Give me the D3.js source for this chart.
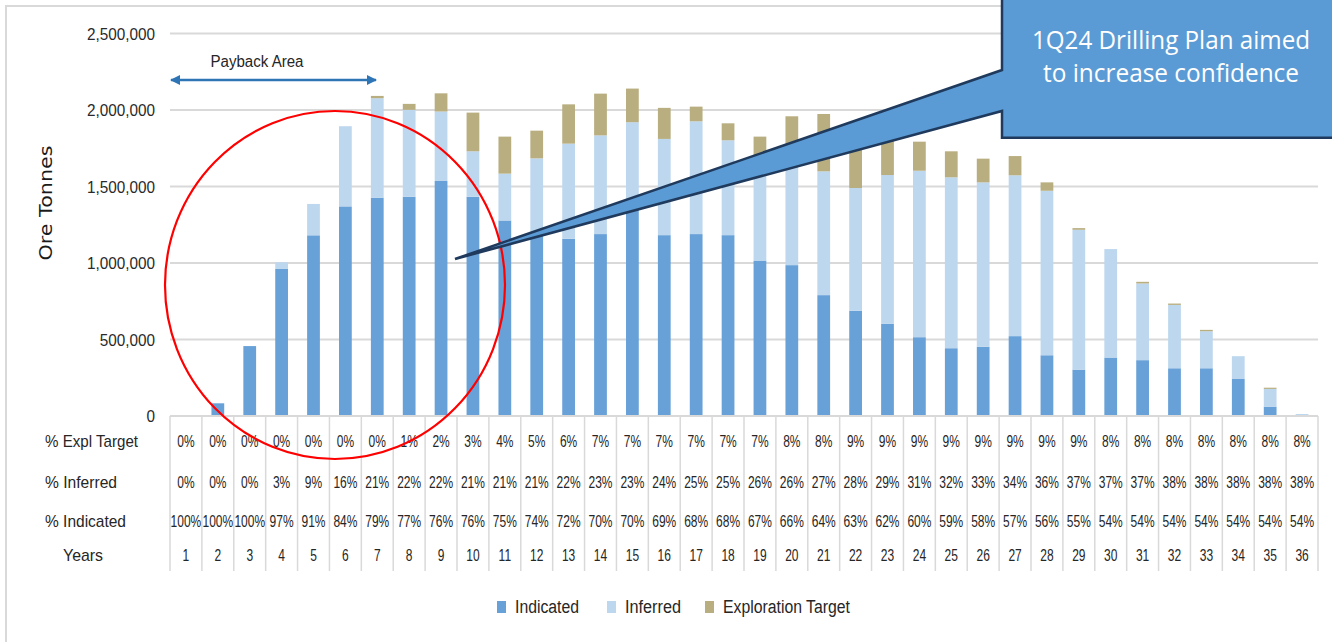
<!DOCTYPE html>
<html><head><meta charset="utf-8">
<script src="https://cdn.jsdelivr.net/npm/d3@7"></script>
<style>
html,body{margin:0;padding:0;background:#fff;}
svg{display:block;}
</style></head>
<body>
<svg id="chart" width="1332" height="642"></svg>
<script>
const years = d3.range(1, 37).map(String);
const indicated = [2000, 83000, 457000, 961000, 1181000, 1370000, 1427000, 1433000, 1536000, 1433000, 1278000, 1178000, 1158000, 1189000, 1370000, 1182000, 1189000, 1182000, 1016000, 986000, 790000, 687000, 602000, 515000, 443000, 452000, 522000, 397000, 303000, 382000, 365000, 312000, 312000, 242000, 61000, 0];
const inferred = [0, 0, 0, 44000, 205000, 524000, 650000, 568000, 454000, 297000, 306000, 506000, 622000, 645000, 550000, 629000, 737000, 620000, 614000, 704000, 809000, 803000, 973000, 1088000, 1117000, 1075000, 1051000, 1075000, 914000, 709000, 501000, 414000, 242000, 149000, 116000, 13000];
const explTarget = [0, 0, 0, 0, 0, 0, 15000, 39000, 119000, 253000, 242000, 181000, 257000, 273000, 220000, 203000, 96000, 111000, 196000, 269000, 375000, 290000, 225000, 190000, 170000, 155000, 126000, 55000, 11000, 0, 11000, 9000, 9000, 0, 8000, 0];
const pctExpl = ["0%","0%","0%","0%","0%","0%","0%","1%","2%","3%","4%","5%","6%","7%","7%","7%","7%","7%","7%","8%","8%","9%","9%","9%","9%","9%","9%","9%","9%","8%","8%","8%","8%","8%","8%","8%"];
const pctInferred = ["0%","0%","0%","3%","9%","16%","21%","22%","22%","21%","21%","21%","22%","23%","23%","24%","25%","25%","26%","26%","27%","28%","29%","31%","32%","33%","34%","36%","37%","37%","37%","38%","38%","38%","38%","38%"];
const pctIndicated = ["100%","100%","100%","97%","91%","84%","79%","77%","76%","76%","75%","74%","72%","70%","70%","69%","68%","68%","67%","66%","64%","63%","62%","60%","59%","58%","57%","56%","55%","54%","54%","54%","54%","54%","54%","54%"];
const yTicks = [0, 500000, 1000000, 1500000, 2000000, 2500000];
const seriesNames = ["Indicated", "Inferred", "Exploration Target"];
const colors = ["#68a1d8", "#bdd7ee", "#b9ae80"];

const svg = d3.select("#chart");
const font = "'Liberation Sans', Arial, sans-serif";
const L = 170, R = 1318, T = 33.5, B = 416;
const txtColor = "#262626";

// frame
svg.append("rect").attr("x", 6).attr("y", 6).attr("width", 1400).attr("height", 700)
  .attr("fill", "none").attr("stroke", "#d9d9d9").attr("stroke-width", 2);

const x = d3.scaleBand().domain(years).range([L, R]).paddingInner(0.6).paddingOuter(0.3);
const y = d3.scaleLinear().domain([0, 2500000]).range([B, T]);
const step = x.step();

// gridlines
svg.append("g").selectAll("line").data(yTicks).join("line")
  .attr("x1", L).attr("x2", R).attr("y1", d => y(d)).attr("y2", d => y(d))
  .attr("stroke", "#d9d9d9").attr("stroke-width", 2);

// y axis labels
const yAxis = d3.axisLeft(y).tickValues(yTicks).tickSize(0).tickPadding(0).tickFormat(d3.format(","));
const yg = svg.append("g").attr("transform", `translate(${L - 15},0)`).call(yAxis);
yg.select(".domain").remove();
yg.selectAll("text").attr("font-family", font).attr("font-size", 17).attr("fill", "#2a2a2a").attr("dy", "0.34em")
  .attr("x", 0).attr("transform", null)
  .each(function () {
    const w = this.getComputedTextLength();
    d3.select(this).attr("textLength", w * 0.9).attr("lengthAdjust", "spacingAndGlyphs");
  });

svg.append("text").attr("transform", "translate(52,203) rotate(-90)")
  .attr("text-anchor", "middle").attr("font-family", "'DejaVu Sans', Verdana, sans-serif")
  .attr("font-size", 18).attr("fill", "#1a1a1a")
  .attr("textLength", 115).attr("lengthAdjust", "spacingAndGlyphs").text("Ore Tonnes");

// stacked bars
const rows = years.map((yr, i) => ({year: yr, Indicated: indicated[i], Inferred: inferred[i], "Exploration Target": explTarget[i]}));
const stack = d3.stack().keys(seriesNames)(rows);
svg.append("g").selectAll("g").data(stack).join("g").attr("fill", (d, i) => colors[i])
  .selectAll("rect").data(d => d).join("rect")
  .attr("x", d => x(d.data.year)).attr("width", x.bandwidth())
  .attr("y", d => y(d[1])).attr("height", d => Math.max(0, y(d[0]) - y(d[1])));

// table
const tg = svg.append("g");
tg.selectAll("line.v").data(d3.range(0, 37)).join("line")
  .attr("x1", k => L + k * step).attr("x2", k => L + k * step)
  .attr("y1", B).attr("y2", 571).attr("stroke", "#d9d9d9").attr("stroke-width", 1.5);
tg.append("line").attr("x1", L).attr("x2", R).attr("y1", B).attr("y2", B).attr("stroke", "#d9d9d9").attr("stroke-width", 2);

const tableRows = [
  {label: "% Expl Target", vals: pctExpl, y: 441, lx: 45, w: 93},
  {label: "% Inferred", vals: pctInferred, y: 482, lx: 45, w: 72},
  {label: "% Indicated", vals: pctIndicated, y: 521, lx: 45, w: 81},
  {label: "Years", vals: years, y: 555, lx: 63, w: 40}
];
tableRows.forEach(r => {
  tg.append("text").attr("x", r.lx).attr("y", r.y).attr("dy", "0.35em")
    .attr("font-family", font).attr("font-size", 17).attr("fill", txtColor)
    .attr("textLength", r.w).attr("lengthAdjust", "spacingAndGlyphs").text(r.label);
  tg.append("g").selectAll("text").data(r.vals).join("text")
    .attr("transform", (d, i) => `translate(${x(years[i]) + x.bandwidth() / 2},${r.y}) scale(0.75,1)`)
    .attr("dy", "0.35em")
    .attr("text-anchor", "middle").attr("font-family", font).attr("font-size", 16).attr("fill", txtColor)
    .text(d => d);
});

// legend
const legX = [497, 607, 705];
const legW = [64, 56, 127];
const lg = svg.append("g");
seriesNames.forEach((n, i) => {
  lg.append("rect").attr("x", legX[i]).attr("y", 601).attr("width", 9).attr("height", 12).attr("fill", colors[i]);
  lg.append("text").attr("x", legX[i] + 18).attr("y", 607).attr("dy", "0.35em")
    .attr("font-family", font).attr("font-size", 18).attr("fill", txtColor)
    .attr("textLength", legW[i]).attr("lengthAdjust", "spacingAndGlyphs").text(n);
});

// payback arrow
const arrowColor = "#2e75b6";
svg.append("defs").html(`<marker id="ah" viewBox="0 0 10 10" refX="9" refY="5" markerWidth="4" markerHeight="4" orient="auto-start-reverse"><path d="M0,0 L10,5 L0,10 Z" fill="${arrowColor}"/></marker>`);
svg.append("line").attr("x1", 171).attr("x2", 376).attr("y1", 80).attr("y2", 80)
  .attr("stroke", arrowColor).attr("stroke-width", 2.5)
  .attr("marker-start", "url(#ah)").attr("marker-end", "url(#ah)");
svg.append("text").attr("x", 257).attr("y", 61).attr("dy", "0.35em").attr("text-anchor", "middle")
  .attr("font-family", font).attr("font-size", 16).attr("fill", txtColor)
  .attr("textLength", 93).attr("lengthAdjust", "spacingAndGlyphs").text("Payback Area");

// red circle
svg.append("ellipse").attr("cx", 335).attr("cy", 285).attr("rx", 170).attr("ry", 174)
  .attr("fill", "none").attr("stroke", "#ff0000").attr("stroke-width", 2.2);

// callout
svg.append("path").attr("d", "M1002,-5 L1002,70 L455,259 L1002,111 L1002,137.7 L1345,137.7 L1345,-5 Z")
  .attr("fill", "#5b9bd5").attr("stroke", "#1f3a5c").attr("stroke-width", 2.5).attr("stroke-linejoin", "miter");
const ct = [{t: "1Q24 Drilling Plan aimed", y: 49, w: 278}, {t: "to increase confidence", y: 82, w: 256}];
ct.forEach(c => {
  svg.append("text").attr("x", 1171).attr("y", c.y).attr("text-anchor", "middle")
    .attr("font-family", "'Open Sans', 'Noto Sans', sans-serif").attr("font-size", 25).attr("fill", "#fff")
    .attr("textLength", c.w).attr("lengthAdjust", "spacingAndGlyphs").text(c.t);
});
</script>
</body></html>
